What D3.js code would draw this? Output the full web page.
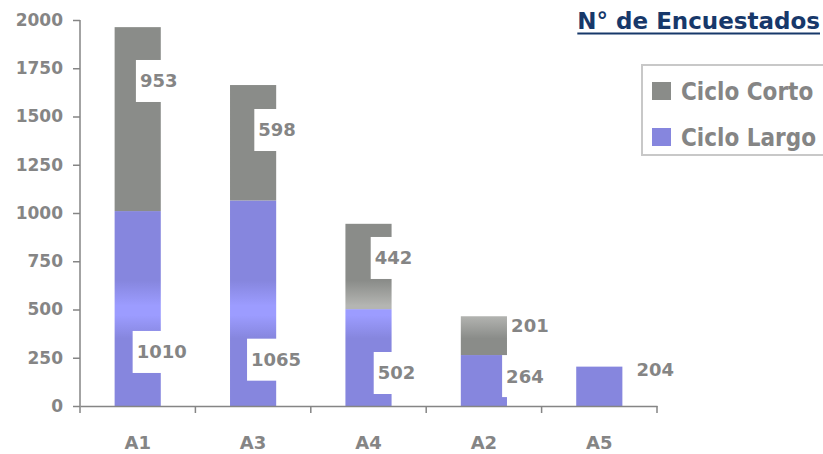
<!DOCTYPE html>
<html>
<head>
<meta charset="utf-8">
<script src="https://cdn.jsdelivr.net/npm/d3@7"></script>
<style>
  body { margin: 0; background: #fff; }
  svg { display: block; font-family: "DejaVu Sans", sans-serif; font-weight: bold; }
</style>
</head>
<body>
<script>
'use strict';

// datos
const categorias = ['A1', 'A3', 'A4', 'A2', 'A5'];
const cicloLargo = [1010, 1065, 502, 264, 204];
const cicloCorto = [953, 598, 442, 201, 0];
const yTicks = [0, 250, 500, 750, 1000, 1250, 1500, 1750, 2000];
const titulo = 'N° de Encuestados';
const series = ['Ciclo Corto', 'Ciclo Largo'];

// ajuste manual de etiquetas (en unidades del eje y, y desplazamiento en px)
const etiquetaLargoEn = [280, 240, 171, 155, 187];
const etiquetaCortoEn = [1684, 1430, 767, 415, null];
const etiquetaDx = [[24, 21], [23, 24], [28, 25], [41, 46], [56, 0]];

const width = 823, height = 454;
const margin = {top: 20, left: 80, right: 166, bottom: 48};

const svg = d3.select('body').append('svg')
  .attr('width', width)
  .attr('height', height);

const y = d3.scaleLinear()
  .domain([0, 2000])
  .range([height - margin.bottom, margin.top]);

const xOuter = d3.scaleBand()
  .domain(categorias)
  .range([margin.left, width - margin.right])
  .padding(0);

const x = d3.scaleBand()
  .domain(categorias)
  .range([margin.left, width - margin.right])
  .paddingInner(0.6)
  .paddingOuter(0.3);

// degradados (banda clara en una altura fija)
const defs = svg.append('defs');
function degradado(id, base, claro) {
  const g = defs.append('linearGradient')
    .attr('id', id)
    .attr('gradientUnits', 'userSpaceOnUse')
    .attr('x1', 0).attr('x2', 0)
    .attr('y1', 0).attr('y2', height);
  const stops = [
    [0, base],
    [y(650) / height, base],
    [y(520) / height, claro],
    [y(470) / height, claro],
    [y(350) / height, base],
    [1, base]
  ];
  stops.forEach(s => g.append('stop').attr('offset', s[0]).attr('stop-color', s[1]));
}
degradado('gradLargo', '#8686de', '#9c9cff');
degradado('gradCorto', '#8a8c89', '#b4b5b2');

const gris = '#858585';

// barras
const barras = svg.append('g');
barras.selectAll('rect.largo')
  .data(cicloLargo)
  .enter().append('rect')
  .attr('class', 'largo')
  .attr('x', (d, i) => x(categorias[i]))
  .attr('width', x.bandwidth())
  .attr('y', d => y(d))
  .attr('height', d => y(0) - y(d))
  .attr('fill', 'url(#gradLargo)');

barras.selectAll('rect.corto')
  .data(cicloCorto)
  .enter().append('rect')
  .attr('class', 'corto')
  .attr('x', (d, i) => x(categorias[i]))
  .attr('width', x.bandwidth())
  .attr('y', (d, i) => y(d + cicloLargo[i]))
  .attr('height', (d, i) => y(cicloLargo[i]) - y(d + cicloLargo[i]))
  .attr('fill', 'url(#gradCorto)');

// etiquetas con fondo blanco
const etiquetas = svg.append('g');
function etiqueta(valor, cx, cy) {
  const g = etiquetas.append('g');
  const t = g.append('text')
    .attr('x', cx)
    .attr('y', cy)
    .attr('dy', '0.36em')
    .attr('text-anchor', 'middle')
    .attr('font-size', 18)
    .attr('fill', gris)
    .text(valor);
  const b = t.node().getBBox();
  g.insert('rect', 'text')
    .attr('x', b.x - 4)
    .attr('y', cy - 21)
    .attr('width', b.width + 8)
    .attr('height', 42)
    .attr('fill', '#fff');
}
categorias.forEach((c, i) => {
  const cx = x(c) + x.bandwidth() / 2;
  etiqueta(cicloLargo[i], cx + etiquetaDx[i][0], y(etiquetaLargoEn[i]));
  if (cicloCorto[i] > 0) {
    etiqueta(cicloCorto[i], cx + etiquetaDx[i][1], y(etiquetaCortoEn[i]));
  }
});

// eje y
const yAxis = svg.append('g')
  .attr('transform', `translate(${margin.left},0)`)
  .call(d3.axisLeft(y).tickValues(yTicks).tickFormat(d3.format('d'))
    .tickSize(7).tickSizeOuter(0).tickPadding(10));
yAxis.select('.domain').remove();
yAxis.selectAll('line').attr('stroke', gris).attr('stroke-width', 1.5);
yAxis.selectAll('text')
  .attr('font-size', 17)
  .attr('font-family', '"DejaVu Sans", sans-serif')
  .attr('font-weight', 'bold')
  .attr('fill', gris);
yAxis.append('line')
  .attr('x1', 0).attr('x2', 0)
  .attr('y1', y(2000)).attr('y2', y(0) + 7)
  .attr('stroke', gris).attr('stroke-width', 1.5);

// eje x
const xAxis = svg.append('g')
  .attr('transform', `translate(0,${y(0)})`)
  .call(d3.axisBottom(xOuter).tickSize(0).tickSizeOuter(0).tickPadding(30));
xAxis.select('.domain').attr('stroke', gris).attr('stroke-width', 1.5);
xAxis.selectAll('text')
  .attr('font-size', 18)
  .attr('font-family', '"DejaVu Sans", sans-serif')
  .attr('font-weight', 'bold')
  .attr('fill', gris);
xAxis.selectAll('line.sep')
  .data(d3.range(1, categorias.length + 1))
  .enter().append('line')
  .attr('class', 'sep')
  .attr('x1', i => xOuter.range()[0] + i * xOuter.step())
  .attr('x2', i => xOuter.range()[0] + i * xOuter.step())
  .attr('y1', 0).attr('y2', 7)
  .attr('stroke', gris).attr('stroke-width', 1.5);

// título
const tit = svg.append('text')
  .attr('x', 820)
  .attr('y', 29)
  .attr('text-anchor', 'end')
  .attr('font-size', 23)
  .attr('fill', '#17386a')
  .text(titulo);
const tb = tit.node().getBBox();
svg.append('line')
  .attr('x1', tb.x).attr('x2', tb.x + tb.width)
  .attr('y1', 33.5).attr('y2', 33.5)
  .attr('stroke', '#17386a').attr('stroke-width', 2);

// leyenda
const leyenda = svg.append('g');
leyenda.append('rect')
  .attr('x', 642).attr('y', 65)
  .attr('width', 200).attr('height', 90)
  .attr('fill', '#fff')
  .attr('stroke', '#c8c8c8')
  .attr('stroke-width', 2);
const colores = ['#8a8c89', '#8686de'];
series.forEach((s, i) => {
  leyenda.append('rect')
    .attr('x', 652).attr('y', 82 + i * 46)
    .attr('width', 19).attr('height', 18)
    .attr('fill', colores[i]);
  leyenda.append('text')
    .attr('x', 681).attr('y', 100 + i * 46)
    .attr('font-family', '"DejaVu Sans Condensed", "DejaVu Sans", sans-serif')
    .attr('font-size', 24)
    .attr('fill', gris)
    .text(s);
});
</script>
</body>
</html>
